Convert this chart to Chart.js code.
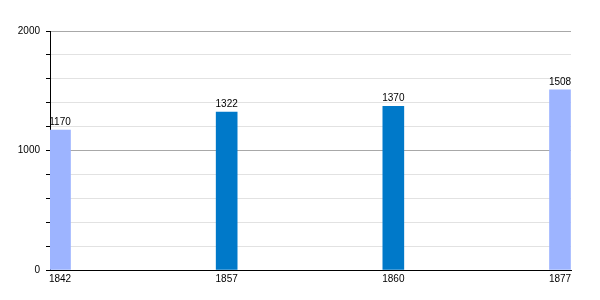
<!DOCTYPE html>
<html>
<head>
<meta charset="utf-8">
<script src="https://cdn.jsdelivr.net/npm/chart.js@4/dist/chart.umd.min.js"></script>
<style>
  html, body { margin: 0; padding: 0; background: #fff; }
  #wrap { width: 600px; height: 300px; }
</style>
</head>
<body>
<div id="wrap"><canvas id="chart"></canvas></div>
<script>
const years = ["1842", "1857", "1860", "1877"];
const population = [1170, 1322, 1370, 1508];
const barColors = ["#9db4ff", "#0079c9", "#0079c9", "#9db4ff"];

const valueLabels = {
  id: "valueLabels",
  afterDatasetsDraw(chart) {
    const ctx = chart.ctx;
    ctx.save();
    ctx.font = "10px 'Liberation Sans', Arial, sans-serif";
    ctx.fillStyle = "#000";
    ctx.textAlign = "center";
    ctx.textBaseline = "alphabetic";
    chart.getDatasetMeta(0).data.forEach((bar, i) => {
      ctx.fillText(String(population[i]), bar.x, bar.y - 5);
    });
    ctx.restore();
  }
};

new Chart(document.getElementById("chart"), {
  type: "bar",
  data: {
    datasets: [{
      data: population.map((v, i) => ({ x: i, y: v })),
      backgroundColor: barColors,
      barThickness: 21,
    }],
  },
  options: {
    responsive: true,
    maintainAspectRatio: false,
    animation: false,
    layout: { padding: { top: 31, right: 29, left: 0, bottom: 0 } },
    plugins: {
      legend: { display: false },
      tooltip: { enabled: false },
    },
    scales: {
      x: {
        type: "linear",
        offset: false,
        min: -0.06,
        max: 3.066,
        afterBuildTicks(scale) {
          scale.ticks = years.map((y, i) => ({ value: i }));
        },
        afterFit(scale) { scale.height = 30; },
        grid: { display: false, drawTicks: false, offset: false },
        border: { display: true, color: "#000", width: 1 },
        ticks: {
          autoSkip: false,
          maxRotation: 0,
          padding: 3,
          color: "#000",
          font: { family: "'Liberation Sans', Arial, sans-serif", size: 10 },
          callback: (v) => years[v] ?? "",
        },
      },
      y: {
        min: 0,
        max: 2000,
        afterFit(scale) { scale.width = 50; },
        border: { display: true, color: "#000", width: 1 },
        grid: {
          color: (c) => (c.tick && c.tick.value % 1000 === 0 ? "#a8a8a8" : "#e2e2e2"),
          tickColor: "#000",
          tickLength: 4,
        },
        ticks: {
          stepSize: 200,
          padding: 6,
          color: "#000",
          font: { family: "'Liberation Sans', Arial, sans-serif", size: 10 },
          callback: (v) => (v % 1000 === 0 ? String(v) : ""),
        },
      },
    },
  },
  plugins: [valueLabels],
});
</script>
</body>
</html>
